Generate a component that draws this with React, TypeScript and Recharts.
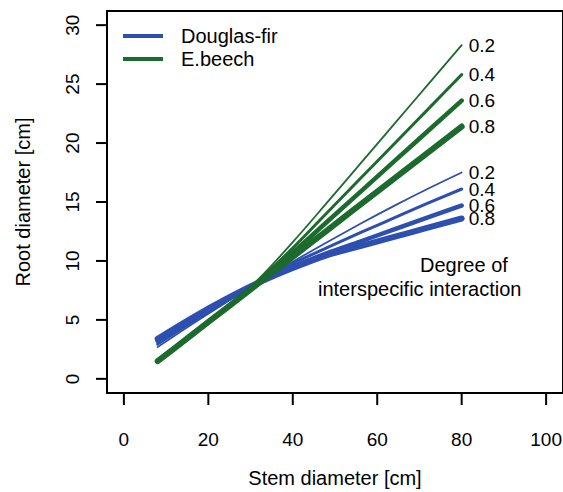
import React from "react";
import { LineChart, Line, XAxis, YAxis, ReferenceArea, Customized } from "recharts";

// stem diameter [cm] at which each model curve is evaluated
const stem = [8, 16, 24, 32, 40, 48, 56, 64, 72, 80];

// Douglas-fir root diameter [cm] per degree of interspecific interaction
const fir02 = [2.7, 4.6, 6.44, 8.22, 9.93, 11.57, 13.15, 14.67, 16.12, 17.5];
const fir04 = [2.95, 4.8, 6.55, 8.2, 9.78, 11.1, 12.4, 13.65, 14.9, 16.1];
const fir06 = [3.2, 4.99, 6.65, 8.19, 9.5, 10.65, 11.65, 12.68, 13.7, 14.7];
const fir08 = [3.4, 5.14, 6.73, 8.17, 9.4, 10.48, 11.26, 12.04, 12.82, 13.6];

// European beech root diameter [cm]
const beech02 = [1.5, 3.75, 6.0, 8.5, 11.6, 14.9, 18.25, 21.6, 24.95, 28.3];
const beech04 = [1.5, 3.73, 5.96, 8.35, 11.1, 14.05, 16.99, 19.92, 22.86, 25.8];
const beech06 = [1.5, 3.72, 5.94, 8.25, 10.7, 13.28, 15.86, 18.44, 21.02, 23.6];
const beech08 = [1.5, 3.71, 5.92, 8.13, 10.34, 12.56, 14.77, 16.98, 19.19, 21.4];

const xTicks = [0, 20, 40, 60, 80, 100];
const yTicks = [0, 5, 10, 15, 20, 25, 30];

const BLUE = "#2d4fb0";
const GREEN = "#1c6a2d";
const FONT = "'Liberation Sans', Arial, sans-serif";

const series = [
  { key: "fir02", label: "0.2", values: fir02, color: BLUE, width: 1.8 },
  { key: "fir04", label: "0.4", values: fir04, color: BLUE, width: 3 },
  { key: "fir06", label: "0.6", values: fir06, color: BLUE, width: 4.5 },
  { key: "fir08", label: "0.8", values: fir08, color: BLUE, width: 6 },
  { key: "beech02", label: "0.2", values: beech02, color: GREEN, width: 1.8 },
  { key: "beech04", label: "0.4", values: beech04, color: GREEN, width: 3 },
  { key: "beech06", label: "0.6", values: beech06, color: GREEN, width: 4.5 },
  { key: "beech08", label: "0.8", values: beech08, color: GREEN, width: 6 },
];

const rows = stem.map((s, i) => {
  const row: Record<string, number> = { stem: s };
  series.forEach((sr) => {
    row[sr.key] = sr.values[i];
  });
  return row;
});

const YTick = ({ x, y, payload }: any) => (
  <text
    x={x}
    y={y}
    textAnchor="middle"
    transform={`rotate(-90 ${x} ${y})`}
    fontSize={19}
    fill="#000"
  >
    {payload.value}
  </text>
);

const XTick = ({ x, y, payload }: any) => (
  <text x={x} y={y} dy="0.71em" textAnchor="middle" fontSize={19} fill="#000">
    {payload.value}
  </text>
);

// value labels at the right-hand end of each curve
const endLabel = (text: string, last: number) => (props: any) => {
  if (props.index !== last) return null;
  return (
    <text
      x={props.x + 7}
      y={props.y}
      dominantBaseline="central"
      fontSize={19}
      fill="#000"
    >
      {text}
    </text>
  );
};

const Decorations = () => (
  <g fontFamily={FONT} fill="#000">
    <line x1={123} y1={36} x2={163} y2={36} stroke={BLUE} strokeWidth={4} />
    <line x1={123} y1={59} x2={163} y2={59} stroke={GREEN} strokeWidth={4} />
    <text x={181} y={36} dominantBaseline="central" fontSize={20}>
      Douglas-fir
    </text>
    <text x={181} y={59} dominantBaseline="central" fontSize={20}>
      E.beech
    </text>
    <text x={420} y={265} dominantBaseline="central" fontSize={20}>
      Degree of
    </text>
    <text x={318} y={289} dominantBaseline="central" fontSize={20}>
      interspecific interaction
    </text>
    <text x={335} y={478} textAnchor="middle" dominantBaseline="central" fontSize={20}>
      Stem diameter [cm]
    </text>
    <text
      x={23}
      y={202}
      textAnchor="middle"
      dominantBaseline="central"
      fontSize={20}
      transform="rotate(-90 23 202)"
    >
      Root diameter [cm]
    </text>
  </g>
);

export default function App() {
  return (
    <div style={{ position: "absolute", left: 0, top: 0, background: "#fff" }}>
      <LineChart
        width={563}
        height={492}
        data={rows}
        margin={{ top: 11, right: 0, bottom: 0, left: 0 }}
        style={{ fontFamily: FONT }}
      >
        <XAxis
          dataKey="stem"
          type="number"
          domain={[-4, 104]}
          ticks={xTicks}
          height={99}
          axisLine={false}
          tickSize={12}
          tickMargin={28}
          tickLine={{ stroke: "#000", strokeWidth: 2 }}
          tick={<XTick />}
          stroke="#000"
          interval={0}
          allowDataOverflow
        />
        <YAxis
          type="number"
          domain={[-1.2, 31.2]}
          ticks={yTicks}
          width={107}
          axisLine={false}
          tickSize={11}
          tickMargin={17}
          tickLine={{ stroke: "#000", strokeWidth: 2 }}
          tick={<YTick />}
          stroke="#000"
          interval={0}
          allowDataOverflow
        />
        {series.map((sr) => (
          <Line
            key={sr.key}
            dataKey={sr.key}
            type="monotone"
            stroke={sr.color}
            strokeWidth={sr.width}
            strokeLinecap="round"
            dot={false}
            activeDot={false}
            isAnimationActive={false}
            label={endLabel(sr.label, stem.length - 1)}
          />
        ))}
        <ReferenceArea
          x1={-4}
          x2={104}
          y1={-1.2}
          y2={31.2}
          fill="none"
          fillOpacity={0}
          stroke="#000"
          strokeWidth={2}
          ifOverflow="visible"
        />
        <Customized component={Decorations} />
      </LineChart>
    </div>
  );
}
